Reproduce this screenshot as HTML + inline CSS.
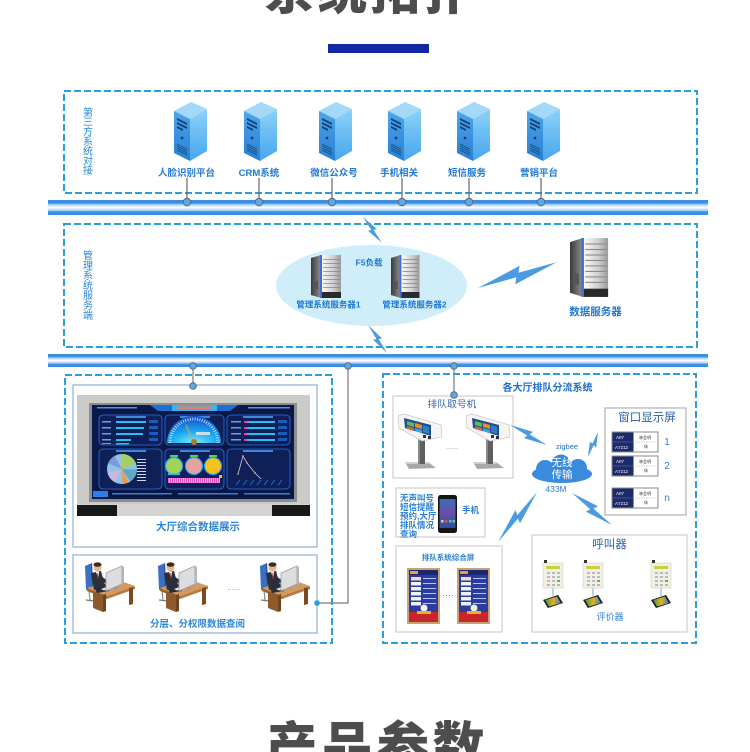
<!DOCTYPE html>
<html><head><meta charset="utf-8"><title>系统拓扑</title>
<style>
html,body{margin:0;padding:0;background:#fff;width:750px;height:752px;overflow:hidden}
svg{display:block}
text{font-family:"Liberation Sans","Noto Sans CJK SC","WenQuanYi Zen Hei",sans-serif}
.lb{fill:#1f78d2;font-weight:bold}
.vt{fill:#2a86d8;font-size:10px}
</style></head><body>
<svg width="750" height="752" viewBox="0 0 750 752" xmlns="http://www.w3.org/2000/svg">
<defs>
 <linearGradient id="pipe" x1="0" y1="0" x2="0" y2="1">
  <stop offset="0" stop-color="#3a8ee4"/><stop offset="0.2" stop-color="#3a8ee4"/>
  <stop offset="0.32" stop-color="#b3d5f5"/><stop offset="0.5" stop-color="#ffffff"/>
  <stop offset="0.68" stop-color="#b3d5f5"/><stop offset="0.8" stop-color="#3a8ee4"/>
  <stop offset="1" stop-color="#3a8ee4"/>
 </linearGradient>
 <linearGradient id="bsl" x1="0" y1="0" x2="0" y2="1"><stop offset="0" stop-color="#4aa6ec"/><stop offset="1" stop-color="#2a7fd2"/></linearGradient>
 <linearGradient id="bsr" x1="0" y1="0" x2="0" y2="1"><stop offset="0" stop-color="#8dd2f8"/><stop offset="1" stop-color="#47a6ee"/></linearGradient>
 <linearGradient id="gsl" x1="0" y1="0" x2="1" y2="0"><stop offset="0" stop-color="#3a3a3a"/><stop offset="1" stop-color="#909090"/></linearGradient>
 <linearGradient id="gsf" x1="0" y1="0" x2="1" y2="0"><stop offset="0" stop-color="#fbfbfb"/><stop offset="0.6" stop-color="#cfcfcf"/><stop offset="1" stop-color="#9a9a9a"/></linearGradient>
 <radialGradient id="gaugeG" cx="0.5" cy="1" r="1"><stop offset="0" stop-color="#7af0ff"/><stop offset="0.45" stop-color="#18a8f0"/><stop offset="1" stop-color="#1646c8"/></radialGradient>
 <linearGradient id="phs" x1="0" y1="0" x2="0" y2="1"><stop offset="0" stop-color="#3c6cb8"/><stop offset="0.5" stop-color="#6a4fa8"/><stop offset="1" stop-color="#2a4fa0"/></linearGradient>
 <linearGradient id="tbs" x1="0" y1="0" x2="1" y2="0"><stop offset="0" stop-color="#2a9a4a"/><stop offset="0.5" stop-color="#e8b020"/><stop offset="1" stop-color="#3080d0"/></linearGradient>
 <pattern id="stripes" width="2" height="5" patternUnits="userSpaceOnUse"><rect width="1" height="5" fill="#e05ac8"/><rect x="1" width="1" height="5" fill="#7ad8f0"/></pattern>

 <g id="bs">
  <polygon points="0,9 17,0 33,7 16,17" fill="#a4d8f8"/>
  <polygon points="0,9 16,17 16,59 0,51" fill="url(#bsl)"/>
  <polygon points="16,17 33,7 33,49 16,59" fill="url(#bsr)"/>
  <polygon points="3,16 13,21 13,23 3,18" fill="#153f70"/>
  <polygon points="3,20 13,25 13,27 3,22" fill="#153f70"/>
  <polygon points="3,24 9,27 9,29 3,26" fill="#153f70"/>
  <circle cx="8" cy="36" r="1.4" fill="#153f70"/>
  <g stroke="#1a4f85" stroke-width="0.8">
   <line x1="3" y1="42" x2="13" y2="47"/><line x1="3" y1="44" x2="13" y2="49"/>
   <line x1="3" y1="46" x2="13" y2="51"/><line x1="3" y1="48" x2="13" y2="53"/>
  </g>
 </g>
 <g id="gs">
  <polygon points="0,3 10,0 10,43 0,40" fill="url(#gsl)"/>
  <rect x="9" y="0" width="2" height="43" fill="#3d6fd6"/>
  <rect x="11" y="0" width="19" height="43" fill="url(#gsf)"/>
  <g fill="#8a8a8a">
   <rect x="12" y="4" width="17" height="0.8"/><rect x="12" y="8" width="17" height="0.8"/>
   <rect x="12" y="12" width="17" height="0.8"/><rect x="12" y="16" width="17" height="0.8"/>
   <rect x="12" y="20" width="17" height="0.8"/><rect x="12" y="24" width="17" height="0.8"/>
   <rect x="12" y="28" width="17" height="0.8"/><rect x="12" y="32" width="17" height="0.8"/>
  </g>
  <rect x="2" y="26" width="5" height="8" fill="#555"/>
  <rect x="11" y="37" width="19" height="6" fill="#2a2a2a"/>
 </g>
 <polygon id="bolt" points="0,0 56,-9 52,-2 100,0 44,9 48,2" fill="#4a9be0"/>
 <g id="kiosk">
  <polygon points="10,50 33,50 41,56 14,57" fill="#a9a9a9"/>
  <polygon points="10,50 33,50 34,52 11,52" fill="#d0d0d0"/>
  <rect x="23" y="26" width="7" height="26" fill="#5f5f5f"/>
  <rect x="23" y="26" width="2" height="26" fill="#8a8a8a"/>
  <polygon points="3,4 9,2 46,13 47,25 27,29 4,16" fill="#f4f4f4" stroke="#bdbdbd" stroke-width="0.6"/>
  <polygon points="9,6 36,13 36,24 10,16" fill="#1f4f8c"/>
  <polygon points="12,9 19,11 19,15 12,13" fill="#5bbf4a"/>
  <polygon points="20,11 27,13 27,17 20,15" fill="#f08a2a"/>
  <polygon points="12,14 19,16 19,19 12,17" fill="#e0603a"/>
  <polygon points="20,16 27,18 27,21 20,19" fill="#3aa8e0"/>
  <polygon points="28,13 34,15 34,22 28,20" fill="#2d7fc0"/>
  <rect x="28" y="23" width="3" height="3" fill="#333"/>
  <rect x="33" y="24" width="3" height="3" fill="#333"/>
 </g>
 <g id="wp">
  <rect x="0" y="0" width="46" height="20" fill="#fff" stroke="#8a8a8a" stroke-width="1"/>
  <rect x="0.5" y="0.5" width="21" height="19" fill="#1c2a6c"/>
  <line x1="1" y1="10" x2="21" y2="10" stroke="#8090c0" stroke-width="0.4"/>
  <line x1="23" y1="10" x2="44" y2="10" stroke="#bbb" stroke-width="0.4"/>
  <text x="4" y="7" font-size="4.5" fill="#fff">A07</text>
  <text x="3" y="17" font-size="4.5" fill="#fff">A7212</text>
  <text x="27" y="7" font-size="4" fill="#333">林会明</text>
  <text x="32" y="16" font-size="4" fill="#333">休</text>
 </g>
 <g id="qs">
  <rect width="33" height="56" fill="#c8a274"/>
  <rect x="2" y="2" width="29" height="52" fill="#2a3c9e"/>
  <rect x="2" y="2" width="29" height="5" fill="#1b2670"/>
  <rect x="3" y="3" width="8" height="3" fill="#e6a23a"/>
  <g fill="#eef2fb">
   <rect x="4" y="14" width="10" height="3.5"/><rect x="4" y="19" width="10" height="3.5"/>
   <rect x="4" y="24" width="10" height="3.5"/><rect x="4" y="29" width="10" height="3.5"/>
   <rect x="4" y="34" width="10" height="3.5"/>
  </g>
  <rect x="4" y="9" width="10" height="3.5" fill="#f6d6d6"/>
  <g fill="#b9c6f5">
   <rect x="16" y="10" width="13" height="1"/><rect x="16" y="15" width="13" height="1"/>
   <rect x="16" y="20" width="13" height="1"/><rect x="16" y="25" width="13" height="1"/>
   <rect x="16" y="30" width="13" height="1"/><rect x="16" y="35" width="13" height="1"/>
  </g>
  <rect x="2" y="44" width="29" height="10" fill="#c7262b"/>
  <circle cx="17" cy="40" r="3.5" fill="#f5f0e0"/>
  <rect x="10" y="43" width="14" height="3" fill="#e8b030"/>
 </g>
 <g id="cl">
  <rect x="0" y="3" width="20" height="25" fill="#f1efe6" stroke="#d5d1bf" stroke-width="0.6"/>
  <rect x="1" y="0" width="3" height="3" fill="#333"/>
  <rect x="3" y="6" width="14" height="3" fill="#c8cf3e"/>
  <g fill="#b9b9b9">
   <rect x="4" y="12" width="3" height="2"/><rect x="9" y="12" width="3" height="2"/><rect x="14" y="12" width="3" height="2"/>
   <rect x="4" y="16" width="3" height="2"/><rect x="9" y="16" width="3" height="2"/><rect x="14" y="16" width="3" height="2"/>
   <rect x="4" y="20" width="3" height="2"/><rect x="9" y="20" width="3" height="2"/>
   <rect x="4" y="24" width="3" height="2"/><rect x="9" y="24" width="3" height="2"/><rect x="14" y="24" width="3" height="2"/>
  </g>
  <rect x="14" y="20" width="3" height="2" fill="#3fbf5a"/>
 </g>
 <g id="tb">
  <polygon points="0,5 15,0 20,8 5,13" fill="#1a1a1a"/>
  <polygon points="2,5 14,1.5 18,8 6,11.5" fill="url(#tbs)"/>
 </g>
 <g id="ps">
  <line x1="4" y1="30" x2="5" y2="40" stroke="#888" stroke-width="1.2"/>
  <line x1="1" y1="40" x2="9" y2="41" stroke="#777" stroke-width="1.2"/>
  <polygon points="0,6 7,3 8,27 1,30" fill="#3a6fc4"/>
  <polygon points="6,4 7,3 8,27 7,28" fill="#24509a"/>
  <polygon points="2,28 30,19 50,26 22,36" fill="#d29a60"/>
  <polygon points="2,28 22,36 22,39 2,31" fill="#9a6330"/>
  <polygon points="22,36 50,26 50,29 22,39" fill="#b87a40"/>
  <polygon points="8,31 18,35 18,52 8,48" fill="#8e5a2c"/>
  <polygon points="18,35 21,34 21,51 18,52" fill="#6e4420"/>
  <polygon points="44,28 48,27 48,44 44,45" fill="#7a4a22"/>
  <polygon points="6,13 16,11 20,26 9,30" fill="#2b2e3b"/>
  <polygon points="9,27 20,24 24,31 12,33" fill="#2b2e3b"/>
  <polygon points="11,12 14,11.5 13.5,19" fill="#fff"/>
  <line x1="12.7" y1="13" x2="13" y2="19" stroke="#c0302a" stroke-width="0.9"/>
  <circle cx="12.5" cy="7.5" r="4" fill="#e8b48c"/>
  <ellipse cx="12.5" cy="4.6" rx="4" ry="2.2" fill="#3b2a1e"/>
  <polygon points="14,15 25,22 24,25 13,19" fill="#2b2e3b"/>
  <circle cx="25.5" cy="23.5" r="1.3" fill="#e8b48c"/>
  <polygon points="16,29 24,26 27,27.5 19,30.5" fill="#e3e3e3"/>
  <rect x="29" y="24" width="3" height="5" fill="#999"/>
  <polygon points="21,13 37,6 37,24 21,31" fill="#dcdde0" stroke="#9c9da2" stroke-width="0.8"/>
  <polygon points="37,6 39,7 39,25 37,24" fill="#b3b4b8"/>
 </g>
</defs>

<!-- titles -->
<g font-size="50" font-weight="900" fill="#4d4d4d" text-anchor="middle">
 <text x="289.5" y="9">系</text><text x="342.2" y="9">统</text><text x="394.8" y="9">拓</text><text x="447.5" y="9">扑</text>
</g>
<rect x="328" y="44" width="101" height="9" fill="#1327a3"/>
<g font-size="52" font-weight="900" fill="#4d4d4d" text-anchor="middle">
 <text x="291.4" y="765">产</text><text x="347.1" y="765">品</text><text x="402.9" y="765">参</text><text x="458.6" y="765">数</text>
</g>

<!-- top box -->
<rect x="64" y="91" width="633" height="102" fill="none" stroke="#2a9ddc" stroke-width="2" stroke-dasharray="7 3"/>
<g class="vt" text-anchor="middle">
 <text x="88" y="115.8">第</text><text x="88" y="125.5">三</text><text x="88" y="135.2">方</text>
 <text x="88" y="144.9">系</text><text x="88" y="154.6">统</text><text x="88" y="164.3">对</text><text x="88" y="174">接</text>
</g>
<use href="#bs" transform="translate(174,102)"/>
<use href="#bs" transform="translate(244,102)"/>
<use href="#bs" transform="translate(319,102)"/>
<use href="#bs" transform="translate(388,102)"/>
<use href="#bs" transform="translate(457,102)"/>
<use href="#bs" transform="translate(527,102)"/>
<g class="lb" font-size="9.5" text-anchor="middle">
 <text x="186.5" y="176">人脸识别平台</text>
 <text x="259" y="176">CRM系统</text>
 <text x="334" y="176">微信公众号</text>
 <text x="399" y="176">手机相关</text>
 <text x="467" y="176">短信服务</text>
 <text x="539" y="176">营销平台</text>
</g>
<g stroke="#666" stroke-width="1.2">
 <line x1="187" y1="178" x2="187" y2="199"/><line x1="259" y1="178" x2="259" y2="199"/>
 <line x1="332" y1="178" x2="332" y2="199"/><line x1="402" y1="178" x2="402" y2="199"/>
 <line x1="469" y1="178" x2="469" y2="199"/><line x1="541" y1="178" x2="541" y2="199"/>
</g>

<!-- bus 1 -->
<rect x="48" y="200" width="660" height="15" fill="url(#pipe)"/>
<g fill="#5ea8e8" stroke="#5a6a7a" stroke-width="1">
 <circle cx="187" cy="202" r="3.8"/><circle cx="259" cy="202" r="3.8"/><circle cx="332" cy="202" r="3.8"/>
 <circle cx="402" cy="202" r="3.8"/><circle cx="469" cy="202" r="3.8"/><circle cx="541" cy="202" r="3.8"/>
</g>

<!-- box 2 -->
<rect x="64" y="224" width="633" height="123" fill="none" stroke="#2a9ddc" stroke-width="2" stroke-dasharray="7 3"/>
<g class="vt" text-anchor="middle">
 <text x="88" y="258.8">管</text><text x="88" y="268.8">理</text><text x="88" y="278.8">系</text>
 <text x="88" y="288.8">统</text><text x="88" y="298.8">服</text><text x="88" y="308.8">务</text><text x="88" y="318.8">端</text>
</g>
<ellipse cx="371.5" cy="285.5" rx="95.5" ry="40.5" fill="#d0eef9"/>
<use href="#gs" transform="translate(311,255)"/>
<use href="#gs" transform="translate(391,255) scale(0.95,1)"/>
<use href="#gs" transform="translate(570,238) scale(1.27,1.37)"/>
<g class="lb" text-anchor="middle">
 <text x="369" y="265.5" font-size="8.5">F5负载</text>
 <text x="328.5" y="307.5" font-size="8.5">管理系统服务器1</text>
 <text x="414.5" y="307.5" font-size="8.5">管理系统服务器2</text>
 <text x="595.5" y="315" font-size="10.5">数据服务器</text>
</g>
<use href="#bolt" transform="translate(363,217) rotate(53.8) scale(0.32,0.45)"/>
<use href="#bolt" transform="translate(368,325) rotate(55.8) scale(0.34,0.45)"/>
<use href="#bolt" transform="translate(478,288) rotate(-18.2) scale(0.83,0.9)"/>

<!-- bus 2 -->
<rect x="48" y="354" width="660" height="13" fill="url(#pipe)"/>

<!-- connectors lower -->
<g stroke="#7a7a7a" stroke-width="1.2" fill="none">
 <line x1="193" y1="366" x2="193" y2="386"/>
 <polyline points="348,366 348,603 317,603"/>
 <line x1="454" y1="366" x2="454" y2="395"/>
</g>

<!-- lower left -->
<rect x="65" y="375" width="267" height="268" fill="none" stroke="#2a9ddc" stroke-width="2" stroke-dasharray="7 3"/>
<rect x="73" y="385" width="244" height="162" fill="#fff" stroke="#a6bfdc" stroke-width="1.5"/>
<rect x="73" y="555" width="244" height="78" fill="#fff" stroke="#a6bfdc" stroke-width="1.5"/>

<!-- dashboard photo -->
<rect x="77" y="395" width="233" height="121" fill="#cbccc8"/>
<rect x="77" y="504" width="233" height="12" fill="#d4d4d0"/>
<rect x="77" y="505" width="40" height="11" fill="#181818"/>
<rect x="272" y="505" width="38" height="11" fill="#181818"/>
<rect x="89" y="403" width="208" height="99" fill="#8a8d92"/>
<rect x="92" y="405" width="202" height="94" fill="#0b1848"/>
<polygon points="150,405 238,405 230,411 158,411" fill="#1e6fd8"/>
<rect x="172" y="405" width="45" height="6" fill="#35b4f0"/>
<rect x="177" y="406.5" width="35" height="3" fill="#e87a6a"/>
<rect x="97" y="407" width="40" height="1.5" fill="#5a8ad8"/>
<rect x="248" y="407" width="42" height="1.5" fill="#5a8ad8"/>
<g fill="#0f2058" stroke="#2f6fe0" stroke-width="0.8">
 <rect x="99" y="415" width="63" height="30" rx="4"/><rect x="165" y="415" width="59" height="30" rx="4"/><rect x="227" y="415" width="63" height="30" rx="4"/>
 <rect x="99" y="449" width="63" height="40" rx="4"/><rect x="165" y="449" width="59" height="40" rx="4"/><rect x="227" y="449" width="63" height="40" rx="4"/>
</g>
<g fill="#3a8ad8">
 <rect x="116" y="416" width="30" height="2"/><rect x="180" y="416" width="30" height="2"/><rect x="243" y="416" width="30" height="2"/>
 <rect x="116" y="450" width="30" height="2"/><rect x="180" y="450" width="30" height="2"/><rect x="243" y="450" width="30" height="2"/>
</g>
<g fill="#6aa0e8">
 <rect x="102" y="421" width="9" height="1.5"/><rect x="102" y="427" width="9" height="1.5"/><rect x="102" y="433" width="9" height="1.5"/><rect x="102" y="439" width="9" height="1.5"/><rect x="102" y="443" width="9" height="1"/>
 <rect x="231" y="421" width="10" height="1.5"/><rect x="231" y="427" width="10" height="1.5"/><rect x="231" y="433" width="10" height="1.5"/><rect x="231" y="439" width="10" height="1.5"/>
</g>
<g fill="#27c0f0">
 <rect x="116" y="421" width="30" height="2"/><rect x="116" y="427" width="28" height="2"/><rect x="116" y="433" width="27" height="2"/><rect x="116" y="439" width="15" height="2"/><rect x="116" y="443" width="13" height="1.5"/>
 <rect x="247" y="421" width="28" height="2"/><rect x="247" y="427" width="28" height="2"/><rect x="247" y="433" width="28" height="2"/><rect x="247" y="439" width="28" height="2"/>
</g>
<g fill="#e040a0"><rect x="244" y="421" width="3" height="2"/><rect x="244" y="427" width="3" height="2"/><rect x="244" y="433" width="3" height="2"/><rect x="244" y="439" width="3" height="2"/></g>
<g fill="#1a5ab8">
 <rect x="149" y="420" width="9" height="3"/><rect x="149" y="426" width="9" height="3"/><rect x="149" y="432" width="9" height="3"/><rect x="149" y="438" width="9" height="3"/>
 <rect x="278" y="420" width="9" height="3"/><rect x="278" y="426" width="9" height="3"/><rect x="278" y="432" width="9" height="3"/><rect x="278" y="438" width="9" height="3"/>
</g>
<path d="M167,443 A27,27 0 0 1 221,443 Z" fill="url(#gaugeG)"/>
<path d="M170,443 A24,24 0 0 1 218,443" fill="none" stroke="#dfe8ff" stroke-width="3" stroke-dasharray="0.8 1.6"/>
<line x1="194" y1="443" x2="186" y2="425" stroke="#e0a040" stroke-width="1"/>
<circle cx="194" cy="442" r="3" fill="#b07a2a"/>
<rect x="196" y="432" width="14" height="3" fill="#cde"/>
<g transform="rotate(-90 122 469)" fill="none" stroke-width="15">
 <circle cx="122" cy="469" r="7.5" stroke="#8fc4e6"/>
 <circle cx="122" cy="469" r="7.5" stroke="#a5cf63" stroke-dasharray="9 40"/>
 <circle cx="122" cy="469" r="7.5" stroke="#5fa8c8" stroke-dasharray="7 42" stroke-dashoffset="-12"/>
 <circle cx="122" cy="469" r="7.5" stroke="#f09a3c" stroke-dasharray="3 46" stroke-dashoffset="-20"/>
 <circle cx="122" cy="469" r="7.5" stroke="#c6b8e0" stroke-dasharray="6 43" stroke-dashoffset="-27"/>
 <circle cx="122" cy="469" r="7.5" stroke="#7a9ad8" stroke-dasharray="5 44" stroke-dashoffset="-38"/>
</g>
<g fill="#cfd8ea">
 <rect x="137" y="459" width="9" height="1"/><rect x="137" y="462" width="9" height="1"/><rect x="137" y="465" width="9" height="1"/><rect x="137" y="468" width="9" height="1"/>
 <rect x="137" y="471" width="9" height="1"/><rect x="137" y="474" width="9" height="1"/><rect x="137" y="477" width="9" height="1"/><rect x="137" y="480" width="9" height="1"/>
</g>
<g fill="#5ad05a"><rect x="170" y="455" width="8" height="2"/><rect x="190" y="455" width="8" height="2"/><rect x="209" y="455" width="8" height="2"/></g>
<circle cx="174" cy="466" r="8.5" fill="#a2d45a" stroke="#2aa0f0" stroke-width="1.2"/>
<circle cx="194" cy="466" r="8.5" fill="#e6a3a0" stroke="#2aa0f0" stroke-width="1.2"/>
<circle cx="213" cy="466" r="8.5" fill="#f6c21c" stroke="#2aa0f0" stroke-width="1.2"/>
<rect x="168" y="473" width="12" height="2" fill="#27c0f0"/>
<rect x="168" y="478" width="52" height="5" fill="url(#stripes)"/>
<rect x="219" y="475" width="3" height="3" fill="#f0c020"/>
<polyline points="238,474 243,456 247,463 255,473 261,479" fill="none" stroke="#c8d0e0" stroke-width="0.8"/>
<g fill="#f0a030"><circle cx="238" cy="474" r="0.9"/><circle cx="243" cy="456" r="0.9"/><circle cx="247" cy="463" r="0.9"/><circle cx="255" cy="473" r="0.9"/></g>
<g stroke="#2a7ad8" stroke-width="0.8">
 <line x1="236" y1="485" x2="240" y2="480"/><line x1="243" y1="485" x2="247" y2="480"/><line x1="250" y1="485" x2="254" y2="480"/><line x1="257" y1="485" x2="261" y2="480"/>
 <line x1="264" y1="485" x2="268" y2="480"/><line x1="271" y1="485" x2="275" y2="480"/><line x1="278" y1="485" x2="282" y2="480"/>
</g>
<rect x="93" y="491" width="201" height="6" fill="#0a1540"/>
<rect x="93" y="491" width="15" height="6" fill="#2a80e8"/>
<rect x="112" y="493" width="60" height="1.5" fill="#3a80d0"/>
<rect x="178" y="493" width="60" height="1.5" fill="#3a80d0"/>
<rect x="244" y="493" width="46" height="1.5" fill="#3a80d0"/>

<text x="198" y="530" font-size="10.5" font-weight="bold" fill="#2e86d8" text-anchor="middle">大厅综合数据展示</text>
<use href="#ps" transform="translate(85,560)"/>
<use href="#ps" transform="translate(158,560)"/>
<use href="#ps" transform="translate(260,560)"/>
<text x="234" y="590" font-size="8" fill="#5aa0d8" text-anchor="middle">......</text>
<text x="197.5" y="627" font-size="9.5" font-weight="bold" fill="#2e86d8" text-anchor="middle">分层、分权限数据查阅</text>

<!-- lower right -->
<rect x="383" y="374" width="313" height="269" fill="none" stroke="#2a9ddc" stroke-width="2" stroke-dasharray="7 3"/>
<text x="547.5" y="391" font-size="10" font-weight="bold" fill="#1f6fc8" text-anchor="middle">各大厅排队分流系统</text>

<rect x="393" y="396" width="120" height="82" fill="#fff" stroke="#cfcfcf" stroke-width="1.2"/>
<text x="452" y="407.5" font-size="9.8" fill="#3a66a8" text-anchor="middle">排队取号机</text>
<use href="#kiosk" transform="translate(395,412)"/>
<use href="#kiosk" transform="translate(463,412)"/>
<text x="452" y="449" font-size="7" fill="#6b8fc0" text-anchor="middle">......</text>

<rect x="605" y="408" width="81" height="107" fill="#fff" stroke="#b0b0b0" stroke-width="1.2"/>
<text x="647" y="421" font-size="11.5" fill="#2860a8" text-anchor="middle">窗口显示屏</text>
<use href="#wp" transform="translate(612,432)"/>
<use href="#wp" transform="translate(612,456)"/>
<use href="#wp" transform="translate(612,488)"/>
<g font-size="10" fill="#2a7fd4" text-anchor="middle">
 <text x="667" y="445">1</text><text x="667" y="469">2</text><text x="667" y="501">n</text>
</g>

<!-- cloud -->
<g fill="#3a8bdb">
 <ellipse cx="562" cy="474" rx="30" ry="9"/>
 <circle cx="545" cy="469" r="9"/>
 <circle cx="561" cy="464" r="9.5"/>
 <circle cx="578" cy="468" r="9"/>
</g>
<g font-size="10.5" fill="#fff" text-anchor="middle">
 <text x="562" y="466">无线</text><text x="562" y="478">传输</text>
</g>
<text x="567" y="449" font-size="7.5" fill="#2a70c0" text-anchor="middle">zigbee</text>
<text x="556" y="492" font-size="8.5" fill="#2a7fd4" text-anchor="middle">433M</text>

<use href="#bolt" transform="translate(510,425) rotate(28.4) scale(0.42,0.55)"/>
<use href="#bolt" transform="translate(588,457) rotate(-68.2) scale(0.27,0.45)"/>
<use href="#bolt" transform="translate(537,492) rotate(127.9) scale(0.63,0.65)"/>
<use href="#bolt" transform="translate(572,493) rotate(38.7) scale(0.51,0.65)"/>

<rect x="396" y="488" width="89" height="49" fill="#fff" stroke="#cfcfcf" stroke-width="1.2"/>
<g font-size="8.5" font-weight="bold" fill="#2a7fd4">
 <text x="400" y="501">无声叫号</text><text x="400" y="510">短信提醒</text><text x="400" y="519">预约,大厅</text>
 <text x="400" y="528">排队情况</text><text x="400" y="537">查询</text>
</g>
<rect x="438" y="495" width="19" height="38" rx="2.5" fill="#151515"/>
<rect x="439.5" y="499" width="16" height="29" fill="url(#phs)"/>
<g fill="#e8d060"><rect x="441" y="520" width="2.5" height="2.5"/><rect x="445" y="520" width="2.5" height="2.5" fill="#e05050"/><rect x="449" y="520" width="2.5" height="2.5" fill="#50c0e0"/><rect x="452.5" y="520" width="2.5" height="2.5" fill="#60d060"/></g>
<text x="470.5" y="513" font-size="8.5" font-weight="bold" fill="#2a7fd4" text-anchor="middle">手机</text>

<rect x="396" y="546" width="106" height="86" fill="#fff" stroke="#cfcfcf" stroke-width="1.2"/>
<text x="448" y="560" font-size="7.5" font-weight="bold" fill="#2a7fd4" text-anchor="middle">排队系统综合屏</text>
<use href="#qs" transform="translate(407,568)"/>
<use href="#qs" transform="translate(457,568)"/>
<text x="448" y="598" font-size="9" fill="#2a7fd4" text-anchor="middle">····</text>

<rect x="532" y="535" width="155" height="97" fill="#fff" stroke="#cfcfcf" stroke-width="1.2"/>
<text x="609.5" y="548" font-size="11.5" fill="#2b5fa8" text-anchor="middle">呼叫器</text>
<use href="#cl" transform="translate(543,560)"/>
<use href="#cl" transform="translate(583,560)"/>
<use href="#cl" transform="translate(651,560)"/>
<g stroke="#9cc8e8" stroke-width="1.5">
 <line x1="553" y1="588" x2="553" y2="596"/><line x1="593" y1="588" x2="593" y2="596"/><line x1="661" y1="588" x2="661" y2="596"/>
</g>
<use href="#tb" transform="translate(543,595)"/>
<use href="#tb" transform="translate(583,595)"/>
<use href="#tb" transform="translate(651,595)"/>
<text x="610" y="620" font-size="9" fill="#2a80d8" text-anchor="middle">评价器</text>

<!-- connector dots -->
<g fill="#5ea8e8" stroke="#5a6a7a" stroke-width="1">
 <circle cx="193" cy="366" r="3.3"/><circle cx="348" cy="366" r="3.3"/><circle cx="454" cy="366" r="3.3"/>
 <circle cx="193" cy="386" r="3.3"/><circle cx="454" cy="395" r="3.3"/>
</g>
<circle cx="317" cy="603" r="2.8" fill="#2a9ddc"/>
</svg>
</body></html>
